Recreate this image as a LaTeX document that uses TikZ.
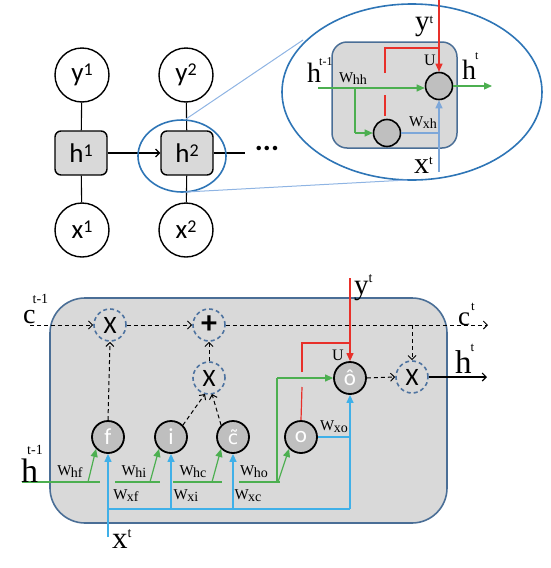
\documentclass[tikz,border=0pt]{standalone}
\usepackage{fontspec}
\setmainfont{Liberation Serif}
\newfontfamily\calib{Carlito}
\newfontfamily\djv{DejaVu Sans}
\usetikzlibrary{arrows.meta,shapes.geometric}
\definecolor{boxfill}{HTML}{D9D9D9}
\definecolor{gatefill}{HTML}{BFBFBF}
\definecolor{boxedge}{HTML}{4A6E96}
\definecolor{ellblue}{HTML}{2E75B6}
\definecolor{tanblue}{HTML}{8FB4E3}
\definecolor{grn}{HTML}{4CAF50}
\definecolor{rd}{HTML}{E8302A}
\definecolor{ltblue}{HTML}{7DA7D9}
\definecolor{cyanb}{HTML}{40B0E8}
\definecolor{dashcol}{HTML}{4E73A0}
\newcommand\rl[2]{{\calib\fontsize{27}{27}\selectfont #1\raisebox{6pt}{\fontsize{18}{18}\selectfont #2}}}
% \bl{base size}{letter}{sup}{sup size}{kern}{raise}
\newcommand\bl[6]{{\fontsize{#1}{#1}\selectfont #2}\kern#5\raisebox{#6}{\fontsize{#4}{#4}\selectfont #3}}
\newcommand\wl[1]{W\kern-0.5pt\raisebox{-2pt}{\fontsize{14}{14}\selectfont #1}}
\newcommand\ctil{{\djv\fontsize{19}{19}\selectfont c^^^^0303}}
\begin{document}
\begin{tikzpicture}[x=1pt,y=-1pt,
 rnnc/.style={circle, draw, line width=1.4, minimum size=54, inner sep=0, fill=white},
 rnnb/.style={rectangle, rounded corners=6, draw, line width=1.4, fill=boxfill, minimum width=52, minimum height=44, inner sep=0},
 ncirc/.style={circle, draw, line width=1.6, fill=gatefill, minimum size=27, inner sep=0},
 gate/.style={circle, draw, line width=1.8, fill=gatefill, minimum size=32, inner sep=0, text=white, font=\calib\fontsize{23}{23}\selectfont},
 dcirc/.style={circle, draw=dashcol, dash pattern=on 4pt off 3pt, line width=1.6, fill=boxfill, minimum size=32, inner sep=0, font=\calib\fontsize{25}{25}\selectfont},
 dline/.style={black, line width=1, dash pattern=on 4pt off 3pt},
 darr/.style={dline, -{Straight Barb[length=4pt,width=8pt]}},
 karr/.style={black, line width=1.1, -{Straight Barb[length=4pt,width=8pt]}},
 grnl/.style={grn, line width=1.2},
 grna/.style={grnl, -{Triangle[length=8pt,width=7pt]}},
 redl/.style={rd, line width=1.2},
 reda/.style={redl, -{Triangle[length=8pt,width=7pt]}},
 bl1/.style={ltblue, line width=1.2},
 bla1/.style={bl1, -{Triangle[length=8pt,width=7pt]}},
 bl2/.style={cyanb, line width=1.3},
 bla2/.style={bl2, -{Triangle[length=8pt,width=7pt]}},
 lab/.style={inner sep=0, anchor=base west},
 wlab/.style={inner sep=0, font=\fontsize{15}{15}\selectfont},
 ulab/.style={inner sep=0, font=\fontsize{16}{16}\selectfont}]
\useasboundingbox (0,0) rectangle (550,568);

% ---------- RNN chain ----------
\node[rnnc] (y1) at (82,75) {\rl{y}{1}};
\node[rnnc] (y2) at (186,75) {\rl{y}{2}};
\node[rnnb] (h1) at (81,153) {\rl{h}{1}};
\node[rnnb] (h2) at (187,153) {\rl{h}{2}};
\node[rnnc] (x1) at (82,230) {\rl{x}{1}};
\node[rnnc] (x2) at (186,230) {\rl{x}{2}};
\draw[line width=1.1] (y1) -- (h1);
\draw[line width=1.1] (h1) -- (x1);
\draw[line width=1.1] (y2) -- (h2);
\draw[line width=1.1] (h2) -- (x2);
\draw[karr] (h1) -- (h2);
\coordinate (hend) at (245,153);
\draw[line width=1.1] (h2) -- (hend);
\node[inner sep=0, font=\calib\bfseries\fontsize{30}{30}\selectfont] (dots) at (267,148) {...};

% zoom ellipses
\node[ellipse, draw=ellblue, line width=1.6, minimum width=88, minimum height=72, inner sep=0] (zs) at (182,156) {};
\node[ellipse, draw=ellblue, line width=1.6, minimum width=260, minimum height=176, inner sep=0] (zb) at (412,92) {};
\coordinate (t1) at (186,119);
\coordinate (t2) at (303,40);
\coordinate (b1) at (186,192);
\coordinate (b2) at (407,180);
\draw[tanblue, line width=1] (t1) -- (t2);
\draw[tanblue, line width=1] (b1) -- (b2);

% inner RNN cell
\node[rectangle, rounded corners=15, draw=boxedge, line width=1.5, fill=boxfill, minimum width=125, minimum height=106] (ib) at (394.5,95) {};
\node[ncirc] (O) at (439,86) {};
\node[ncirc] (S) at (387,133) {};
\coordinate (gin) at (318,88);
\coordinate (gbr) at (355,88);
\coordinate (gdn) at (355,133);
\coordinate (gout) at (492,86);
\draw[grna] (gin) -- (O.west |- gin);
\draw[grnl] (gbr) -- (gdn);
\draw[grna] (gdn) -- (S.west);
\draw[grna] (O.east) -- (gout);
\coordinate (rtop) at (439,0);
\draw[reda] (rtop) -- (O.north);
\coordinate (r1) at (385,73);
\coordinate (r2) at (385,48);
\coordinate (r3) at (439,48);
\draw[redl] (r1) -- (r2) -- (r3);
\coordinate (r4) at (385,95);
\coordinate (r5) at (385,116);
\draw[redl] (r4) -- (r5);
\coordinate (xb) at (439,172);
\draw[bla1] (xb) -- (O.south);
\coordinate (xs) at (439,133);
\draw[bl1] (S.east) -- (xs);
\node[lab] (yt1) at (415,30) {\bl{29}{y}{t}{13}{0pt}{7pt}};
\node[lab] (ht1) at (307,82) {\bl{28}{h}{t-1}{12}{-2pt}{17pt}};
\node[wlab] (whh) at (353,79) {\wl{hh}};
\node[ulab] (u1) at (430,60) {U};
\node[lab] (hto) at (462,79) {\bl{28}{h}{t}{12}{-1pt}{20pt}};
\node[wlab] (wxh) at (423,123) {\wl{xh}};
\node[lab] (xt1) at (414,173) {\bl{30}{x}{t}{13}{0pt}{9pt}};

% ---------- LSTM cell ----------
\node[rectangle, rounded corners=35, draw=boxedge, line width=1.6, fill=boxfill, minimum width=397, minimum height=225] (lb) at (248.5,410.5) {};
\node[dcirc] (X1) at (110,325) {X};
\node[dcirc] (P) at (209,325) {\fontsize{32}{32}\selectfont\textbf{+}};
\node[dcirc] (X2) at (209,378) {X};
\node[dcirc] (X3) at (412,377) {X};
\node[gate] (f) at (108,437) {f};
\node[gate] (i) at (171,437) {i};
\node[gate] (c) at (233,437) {\ctil};
\node[gate] (o) at (301,437) {o};
\node[gate] (oh) at (350,378) {\^{o}};

% cell state path
\coordinate (cin) at (30,325);
\coordinate (cout) at (488,325);
\coordinate (cbr) at (412,325);
\draw[darr] (cin) -- (X1.west);
\draw[darr] (X1.east) -- (P.west);
\draw[darr] (P.east) -- (cout);
\draw[darr] (cbr) -- (X3.north);
\draw[darr] (f.north) -- (X1.south);
\draw[darr] (X2.north) -- (P.south);
\coordinate (x2a) at (205,394);
\coordinate (x2b) at (212,394);
\draw[darr] (i.north east) -- (x2a);
\draw[darr] (c.north west) -- (x2b);
\draw[darr] (oh.east) -- (X3.west);
\coordinate (hout) at (487,377);
\draw[karr] (X3.east) -- (hout);

% red (y^t)
\coordinate (ytop) at (350,278);
\draw[reda] (ytop) -- (oh.north);
\coordinate (q1) at (302,372);
\coordinate (q2) at (302,343);
\coordinate (q3) at (350,343);
\draw[redl] (q1) -- (q2) -- (q3);
\coordinate (q4) at (302,387);
\draw[redl] (q4) -- (o.north);

% green (h^{t-1})
\coordinate (g1a) at (22,482);  \coordinate (g1b) at (100,482);
\coordinate (g2a) at (115,482); \coordinate (g2b) at (160,482);
\coordinate (g3a) at (173,482); \coordinate (g3b) at (222,482);
\coordinate (g4a) at (239,482); \coordinate (g4b) at (280,482);
\draw[grnl] (g1a) -- (g1b);
\draw[grnl] (g2a) -- (g2b);
\draw[grnl] (g3a) -- (g3b);
\draw[grnl] (g4a) -- (g4b);
\coordinate (d1) at (88,482);
\coordinate (d2) at (150,482);
\coordinate (d3) at (212,482);
\coordinate (d4) at (278,482);
\draw[grna] (d1) -- (f.south west);
\draw[grna] (d2) -- (i.south west);
\draw[grna] (d3) -- (c.south west);
\draw[grna] (d4) -- (o.south west);
\coordinate (gv1) at (277,482);
\coordinate (gv2) at (277,378);
\draw[grnl] (gv1) -- (gv2);
\draw[grna] (gv2) -- (oh.west);

% blue (x^t)
\coordinate (xin) at (108,537);
\coordinate (xl) at (108,509);
\coordinate (xr) at (350,509);
\draw[bla2] (xin) -- (f.south);
\draw[bl2] (xl) -- (xr);
\coordinate (xi) at (171,509);
\coordinate (xc) at (233,509);
\draw[bla2] (xi) -- (i.south);
\draw[bla2] (xc) -- (c.south);
\draw[bla2] (xr) -- (oh.south);
\coordinate (xo) at (350,437);
\draw[bl2] (o.east) -- (xo);

% labels
\node[lab] (ct1) at (23,323) {\bl{28}{c}{t-1}{14}{-3pt}{20pt}};
\node[lab] (ht1b) at (21,482) {\bl{34}{h}{t-1}{14}{-11pt}{28pt}};
\node[lab] (xtb) at (112,548) {\bl{31}{x}{t}{14}{0pt}{11pt}};
\node[lab] (ytb) at (354,294) {\bl{29}{y}{t}{14}{0pt}{12pt}};
\node[lab] (ctb) at (458,325) {\bl{27}{c}{t}{13}{1pt}{15pt}};
\node[lab] (htb) at (455,373) {\bl{33}{h}{t}{13}{-1pt}{22pt}};
\node[ulab] (u2) at (338,355) {U};
\node[wlab] (whf) at (70,472) {\wl{hf}};
\node[wlab] (whi) at (134,472) {\wl{hi}};
\node[wlab] (whc) at (193,472) {\wl{hc}};
\node[wlab] (who) at (254,472) {\wl{ho}};
\node[wlab] (wxf) at (126,496) {\wl{xf}};
\node[wlab] (wxi) at (186,496) {\wl{xi}};
\node[wlab] (wxc) at (248,496) {\wl{xc}};
\node[wlab] (wxo) at (334,427) {\wl{xo}};
\end{tikzpicture}
\end{document}
